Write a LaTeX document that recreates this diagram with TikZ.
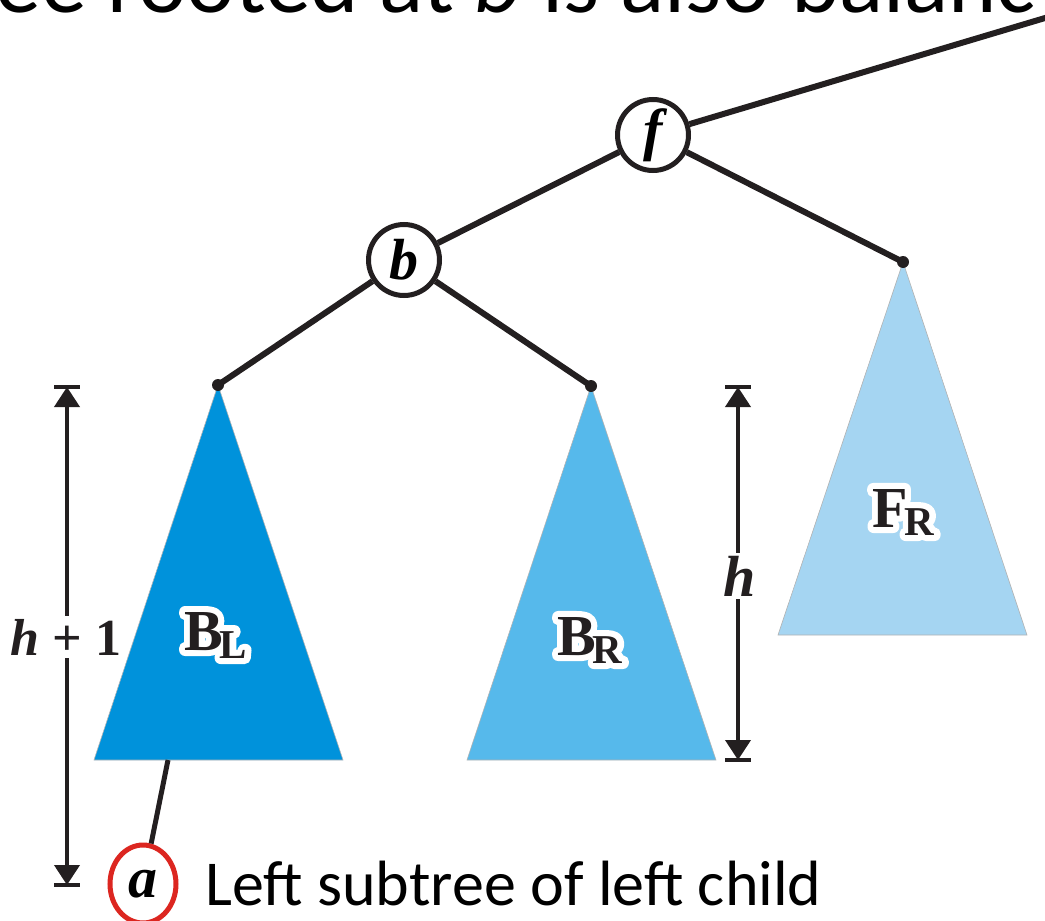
\documentclass[tikz,border=0pt]{standalone}
\usepackage{fontspec}
\setmainfont{Carlito}
\newfontfamily\tms{Liberation Serif}
\usetikzlibrary{arrows.meta,shapes.geometric}
\definecolor{ink}{RGB}{35,31,32}
\definecolor{blA}{RGB}{0,146,219}
\definecolor{blB}{RGB}{86,185,235}
\definecolor{blC}{RGB}{165,213,242}
\definecolor{redc}{RGB}{220,38,32}
\newcommand\sublab[2]{{\tms\bfseries\fontsize{58}{58}\selectfont #1\kern-3pt\raisebox{-8pt}{\fontsize{41}{41}\selectfont #2}}}
\newcommand\haloon{\special{pdf:literal direct 1 Tr 12 w 1 j 1 1 1 RG}}
\newcommand\halooff{\special{pdf:literal direct 0 Tr}}
\newcommand\varlab[1]{{\tms\bfseries\itshape\fontsize{58}{58}\selectfont #1}}
\tikzset{
  treeedge/.style={draw=ink, line width=6pt},
  tri/.style={draw=black!30, line width=0.6pt},
  keynode/.style={circle, draw=ink, line width=5pt, fill=white, minimum size=71pt, inner sep=0pt},
  dimline/.style={draw=ink, line width=4pt, {Triangle[width=25pt,length=20pt]}-{Triangle[width=25pt,length=20pt]}},
  dimbar/.style={draw=ink, line width=4pt},
  dimlab/.style={fill=white, inner sep=3pt, text=ink},
  sublabel/.style={text=ink, anchor=base west, inner sep=0pt}
}
\begin{document}
\begin{tikzpicture}[x=1pt,y=-1pt]
\useasboundingbox (0,0) rectangle (1045,921);
\clip (0,0) rectangle (1045,921);
% title (cut off)
\node[anchor=base west, inner sep=0pt, font=\fontsize{92}{92}\selectfont] (title) at (-5,12) {ee rooted at \textit{b} is also balanc};
% coordinates
\coordinate (BLtop) at (218,385);
\coordinate (BLl) at (94,760);
\coordinate (BLr) at (343,760);
\coordinate (BRtop) at (591,386);
\coordinate (BRl) at (467,760);
\coordinate (BRr) at (716,760);
\coordinate (FRtop) at (903,262);
\coordinate (FRl) at (778,635);
\coordinate (FRr) at (1027,635);
\coordinate (BLfoot) at (168,760);
\coordinate (fout) at (1100,1.6);
% triangles
\filldraw[tri, fill=blA] (BLtop) -- (BLr) -- (BLl) -- cycle;
\filldraw[tri, fill=blB] (BRtop) -- (BRr) -- (BRl) -- cycle;
\filldraw[tri, fill=blC] (FRtop) -- (FRr) -- (FRl) -- cycle;
% nodes
\node[keynode] (f) at (653,135) {\varlab{f}};
\node[keynode] (b) at (404,260) {\varlab{b}};
\node[ellipse, draw=redc, line width=5pt, fill=white, minimum width=66pt, minimum height=78pt, inner sep=0pt] (a) at (143,884) {\varlab{a}};
% edges
\draw[treeedge] (f) -- (fout);
\draw[treeedge] (f) -- (b);
\draw[treeedge] (f) -- (FRtop);
\draw[treeedge] (b) -- (BLtop);
\draw[treeedge] (b) -- (BRtop);
\draw[draw=ink, line width=5pt] (BLfoot) -- (a);
\fill[ink] (FRtop) circle (6);
\fill[ink] (BLtop) circle (6);
\fill[ink] (BRtop) circle (6);
% subtree labels with white halo
\node[sublabel] (BLlab) at (184,650) {\rlap{\haloon\sublab{B}{L}\halooff}\sublab{B}{L}};
\node[sublabel] (BRlab) at (557,655) {\rlap{\haloon\sublab{B}{R}\halooff}\sublab{B}{R}};
\node[sublabel] (FRlab) at (872,527) {\rlap{\haloon\sublab{F}{R}\halooff}\sublab{F}{R}};
% dimension lines
\coordinate (dLt) at (67,387);
\coordinate (dLb) at (67,885);
\coordinate (dRt) at (738,387);
\coordinate (dRb) at (738,760);
\draw[dimline] (dLt) -- (dLb);
\draw[dimline] (dRt) -- (dRb);
\draw[dimbar] ([xshift=-13pt]dLt) -- ([xshift=13pt]dLt);
\draw[dimbar] ([xshift=-13pt]dLb) -- ([xshift=13pt]dLb);
\draw[dimbar] ([xshift=-13pt]dRt) -- ([xshift=13pt]dRt);
\draw[dimbar] ([xshift=-13pt]dRb) -- ([xshift=13pt]dRb);
\node[dimlab] (hone) at (66,637) {{\tms\bfseries\fontsize{52}{52}\selectfont\textit{h} + 1}};
\node[dimlab] (hh) at (740,576) {\varlab{h}};
% caption
\node[anchor=base west, inner sep=0pt, font=\fontsize{64}{64}\selectfont] (cap) at (205,905) {Left subtree of left child};
\end{tikzpicture}
\end{document}
